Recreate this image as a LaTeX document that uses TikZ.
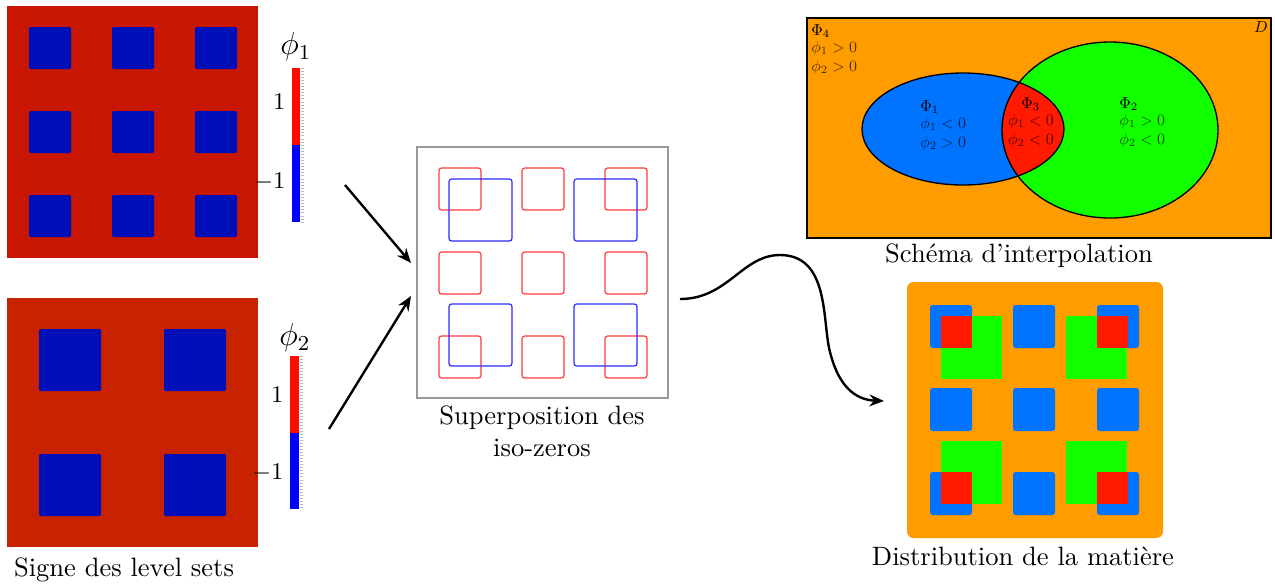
\documentclass[tikz,border=0pt]{standalone}
\usetikzlibrary{arrows.meta}

\definecolor{signredA}{HTML}{C81600}
\definecolor{signredB}{HTML}{C82200}
\definecolor{signblue}{HTML}{0010B8}
\definecolor{barred}{HTML}{FF0A00}
\definecolor{barblue}{HTML}{0000FF}
\definecolor{isored}{HTML}{FF3A3A}
\definecolor{isoblue}{HTML}{2A2AFF}
\definecolor{phasefour}{HTML}{FF9C00}
\definecolor{phaseone}{HTML}{0073FF}
\definecolor{phasetwo}{HTML}{12FF00}
\definecolor{phasethree}{HTML}{FF1A00}

\begin{document}
\begin{tikzpicture}[x=0.377pt,y=-0.377pt,
  flow/.style={-{Stealth[length=5.5pt,width=4.5pt]},line width=0.9pt},
  isoline/.style={line width=0.45pt,rounded corners=1pt},
  barticks/.style={gray!55,line width=0.25pt},
  bartext/.style={anchor=east,inner sep=0pt,font=\small},
  regtitle/.style={inner sep=0pt,scale=0.6,transform shape},
  regcond/.style={inner sep=0pt,scale=0.6,transform shape,text opacity=0.7,align=left},
  caption/.style={align=center,inner sep=0pt}]
\useasboundingbox (0,0) rectangle (1275,586);

% sign of phi_1
\fill[signredA] (7,6) rectangle (258,258);
\foreach \i in {29,112,195}
  \foreach \j in {27,111,195}
    \fill[signblue,rounded corners=0.5pt] (\i,\j) rectangle ++(42,42);
\fill[barred] (292,68) rectangle (300,145);
\fill[barblue] (292,145) rectangle (300,222);
\foreach \k in {0,...,50}
  \draw[barticks] (300.5,68+\k*3.08) -- ++(3,0);
\node (phione) at (296,47) {\large $\phi_1$};
\node[bartext] (oneA) at (286,102) {$1$};
\node[bartext] (moneA) at (286,182) {$-1$};

% sign of phi_2
\fill[signredB] (7,298) rectangle (258,547);
\foreach \i in {39,164}
  \foreach \j in {329,454}
    \fill[signblue,rounded corners=0.5pt] (\i,\j) rectangle ++(62,62);
\fill[barred] (290,356) rectangle (299,433);
\fill[barblue] (290,433) rectangle (299,509);
\foreach \k in {0,...,50}
  \draw[barticks] (299.5,356+\k*3.02) -- ++(3,0);
\node (phitwo) at (295,338) {\large $\phi_2$};
\node[bartext] (oneB) at (284,395) {$1$};
\node[bartext] (moneB) at (284,473) {$-1$};

\node[caption] (signcap) at (124,570) {Signe des level sets};

% superposition
\draw[gray!80,line width=0.5pt] (417,147) rectangle (668,398);
\foreach \i in {439,522,605}
  \foreach \j in {168,252,336}
    \draw[isoline,isored] (\i,\j) rectangle ++(42,42);
\foreach \i in {449,574}
  \foreach \j in {179,304}
    \draw[isoline,isoblue] (\i,\j) rectangle ++(63,62);
\node[caption] (supercap) at (542,431) {Superposition des\\iso-zeros};

\coordinate (fromone) at (345,185);
\coordinate (toone) at (411,263);
\coordinate (fromtwo) at (329,429);
\coordinate (totwo) at (411,296);
\draw[flow] (fromone) -- (toone);
\draw[flow] (fromtwo) -- (totwo);

% interpolation scheme
\draw[fill=phasefour,line width=0.5pt] (807,18) rectangle (1271,238);
\fill[phaseone] (963,129) ellipse [x radius=101,y radius=56];
\fill[phasetwo] (1110,130) ellipse [x radius=108,y radius=88];
\begin{scope}
  \clip (963,129) ellipse [x radius=101,y radius=56];
  \fill[phasethree] (1110,130) ellipse [x radius=108,y radius=88];
\end{scope}
\draw[line width=0.5pt] (963,129) ellipse [x radius=101,y radius=56];
\draw[line width=0.5pt] (1110,130) ellipse [x radius=108,y radius=88];

\node[regtitle,anchor=north west] (tfour) at (811,24) {$\Phi_4$};
\node[regcond,anchor=north west] (cfour) at ([yshift=-1.2pt]tfour.south west) {$\phi_1>0$\\$\phi_2>0$};
\node[regtitle,anchor=north west] (tone) at (920,100) {$\Phi_1$};
\node[regcond,anchor=north west] (cone) at ([yshift=-1.2pt]tone.south west) {$\phi_1<0$\\$\phi_2>0$};
\node[regtitle,anchor=north west] (tthree) at (1021,97) {$\Phi_3$};
\node[regcond,anchor=north west] (cthree) at ([xshift=-5pt,yshift=-1.2pt]tthree.south west) {$\phi_1<0$\\$\phi_2<0$};
\node[regtitle,anchor=north west] (ttwo) at (1119,97) {$\Phi_2$};
\node[regcond,anchor=north west] (ctwo) at ([yshift=-1.2pt]ttwo.south west) {$\phi_1>0$\\$\phi_2<0$};
\node[regtitle,anchor=north east] (dom) at (1268,21) {$D$};

\node[caption] (schemacap) at (1019,256) {Schéma d'interpolation};

% material distribution
\fill[phasefour,rounded corners=2.5pt] (907,282) rectangle (1163,538);
\foreach \i in {930,1013,1097}
  \foreach \j in {305,388,472}
    \fill[phaseone,rounded corners=1pt] (\i,\j) rectangle ++(42,43);
\foreach \i in {941,1066}
  \foreach \j in {316,441}
    \fill[phasetwo] (\i,\j) rectangle ++(61,63);
\foreach \i/\j in {941/316,1097/316,941/472,1097/472}
  \fill[phasethree] (\i,\j) rectangle ++(31,32);
\node[caption] (distcap) at (1023,556) {Distribution de la matière};

\coordinate (curvefrom) at (680,299);
\coordinate (curveto) at (884,401);
\draw[flow] (curvefrom) .. controls (728,299) and (742,255) .. (780,255)
  .. controls (830,255) and (822,322) .. (830,352)
  .. controls (840,392) and (860,400) .. (curveto);
\end{tikzpicture}
\end{document}
